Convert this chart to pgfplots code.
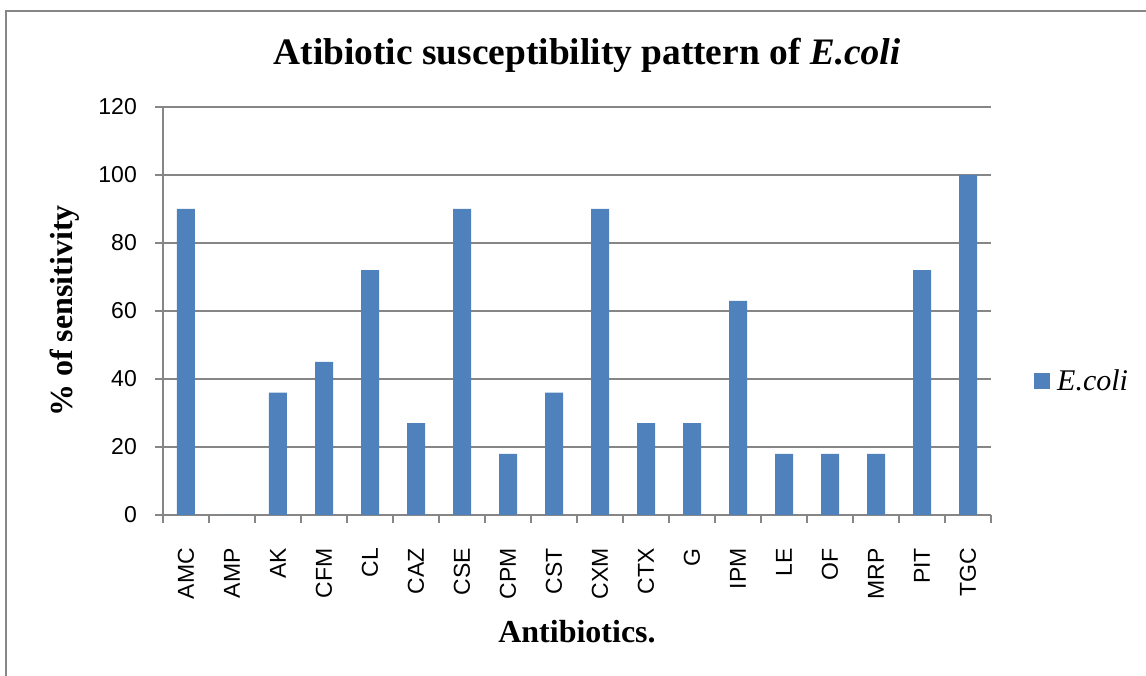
\documentclass[border=0pt]{standalone}
\usepackage{fontspec}
\setmainfont{Liberation Serif}
\newfontfamily\arialfont{Liberation Sans}
\usepackage{pgfplots}
\pgfplotsset{compat=1.18}
\definecolor{barblue}{HTML}{4F81BD}
\definecolor{axisgray}{HTML}{868686}

\begin{document}
\begin{tikzpicture}
\useasboundingbox (-163pt,-161pt) rectangle (983pt,515pt);
% outer chart frame
\draw[axisgray, line width=2pt] (-156.5pt,-170pt) -- (-156.5pt,503.5pt) -- (990pt,503.5pt);
\begin{axis}[
  scale only axis, width=828pt, height=408pt,
  xmin=-0.5, xmax=17.5, ymin=0, ymax=120,
  axis lines=left,
  axis line style={-, axisgray, line width=1.5pt},
  ytick={0,20,...,120},
  ymajorgrids, grid style={axisgray, line width=1.5pt},
  xtick={0,...,17},
  xticklabels={AMC,AMP,AK,CFM,CL,CAZ,CSE,CPM,CST,CXM,CTX,G,IPM,LE,OF,MRP,PIT,TGC},
  major x tick style={draw=none},
  minor xtick={-0.5,0.5,...,17.5},
  tick align=outside,
  major tick length=8pt, minor tick length=8pt,
  tick style={axisgray, line width=1.5pt},
  /pgf/number format/assume math mode=true,
  xticklabel style={rotate=90, anchor=east, inner sep=0pt,
    font=\arialfont\fontsize{23}{27}\selectfont},
  yticklabel style={anchor=east, inner sep=0pt,
    font=\arialfont\fontsize{23}{27}\selectfont},
  xticklabel shift=25pt,
  yticklabel shift=18pt,
  xlabel={Antibiotics.},
  xlabel style={at={(axis description cs:0.5,-0.3113)}, anchor=base,
    font=\bfseries\fontsize{32}{36}\selectfont},
  ylabel={\% of sensitivity},
  ylabel style={at={(axis description cs:-0.1087,0.5)}, anchor=base,
    font=\bfseries\fontsize{32}{36}\selectfont},
  ybar, bar width=18pt,
  legend style={at={(axis description cs:1.0519,0.3296)}, anchor=west,
    draw=none, fill=none, inner sep=0pt,
    nodes={inner xsep=7pt},
    font=\fontsize{30}{34}\selectfont},
  legend image code/.code={\fill[barblue] (0pt,-8pt) rectangle (16pt,8pt);},
]
\addplot[fill=barblue, draw=none] coordinates {
  (0,90) (1,0) (2,36) (3,45) (4,72) (5,27) (6,90) (7,18) (8,36)
  (9,90) (10,27) (11,27) (12,63) (13,18) (14,18) (15,18) (16,72) (17,100)
};
\addlegendentry{\textit{E.coli}}
\end{axis}
\node[anchor=base, font=\bfseries\fontsize{37.4}{42}\selectfont] at (424pt,450pt)
  {Atibiotic susceptibility pattern of \textit{E.coli}};
\end{tikzpicture}
\end{document}
